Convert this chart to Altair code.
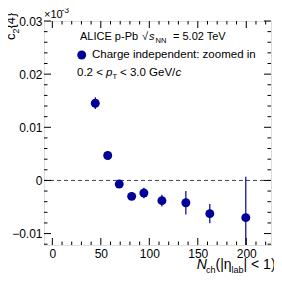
import altair as alt
import pandas as pd

# data (values as displayed, in units of the x10^-3 label convention)
nch = [44.3, 57.1, 69.0, 81.8, 94.4, 113.0, 137.7, 162.4, 199.5]
c24 = [0.01453, 0.00469, -0.00068, -0.0030, -0.00237, -0.0038, -0.0042, -0.00625, -0.0070]
err = [0.0011, 0.0006, 0.0005, 0.0006, 0.0010, 0.0011, 0.0022, 0.0018, 0.0077]

x_major = [0, 50, 100, 150, 200]
x_minor = [10, 20, 30, 40, 60, 70, 80, 90, 110, 120, 130, 140, 160, 170, 180, 190, 210, 220]
y_major = [-0.01, 0.0, 0.01, 0.02, 0.03]
y_minor = [-0.012, -0.008, -0.006, -0.004, -0.002, 0.002, 0.004, 0.006, 0.008,
           0.012, 0.014, 0.016, 0.018, 0.022, 0.024, 0.026, 0.028]

XDOM = [-8.6, 225.5]
YDOM = [-0.01215, 0.0300]
W, H = 227, 224
BLUE = "#000099"
FONT = "Liberation Sans"

df = pd.DataFrame({"x": nch, "y": c24, "lo": [a - b for a, b in zip(c24, err)],
                   "hi": [a + b for a, b in zip(c24, err)]})

xs = alt.Scale(domain=XDOM, nice=False, zero=False)
ys = alt.Scale(domain=YDOM, nice=False, zero=False)

xaxis = alt.Axis(values=x_major, ticks=False, domain=False, grid=False, labelFont=FONT,
                 labelFontSize=12, labelColor="black", labelPadding=3, title=None,
                 labelFlush=False)
yaxis = alt.Axis(values=y_major, ticks=False, domain=False, grid=False, labelFont=FONT,
                 labelFontSize=12, labelColor="black", labelPadding=2, title=None,
                 labelExpr="datum.value == 0 ? '0' : format(datum.value, '.2f')")

base = alt.Chart(df)

pts = base.mark_point(filled=True, size=80, opacity=1, color=BLUE, clip=True).encode(
    x=alt.X("x:Q", scale=xs, axis=xaxis),
    y=alt.Y("y:Q", scale=ys, axis=yaxis),
)
bars = base.mark_rule(color=BLUE, strokeWidth=1.2, clip=True).encode(
    x=alt.X("x:Q", scale=xs), y=alt.Y("lo:Q", scale=ys), y2="hi:Q")

zero = alt.Chart(pd.DataFrame({"z": [0.0]})).mark_rule(
    color="#444444", strokeDash=[4, 3], strokeWidth=1).encode(y=alt.Y("z:Q", scale=ys))

def xticks(vals, L):
    d = alt.Chart(pd.DataFrame({"v": vals}))
    b = d.mark_rule(color="black", strokeWidth=1).encode(
        x=alt.X("v:Q", scale=xs), y=alt.value(H), y2=alt.value(H - L))
    t = d.mark_rule(color="black", strokeWidth=1).encode(
        x=alt.X("v:Q", scale=xs), y=alt.value(0), y2=alt.value(L))
    return b + t

def yticks(vals, L):
    d = alt.Chart(pd.DataFrame({"v": vals}))
    l = d.mark_rule(color="black", strokeWidth=1).encode(
        y=alt.Y("v:Q", scale=ys), x=alt.value(0), x2=alt.value(L))
    r = d.mark_rule(color="black", strokeWidth=1).encode(
        y=alt.Y("v:Q", scale=ys), x=alt.value(W), x2=alt.value(W - L))
    return l + r

def txt(s, x, y, size=11.5, style="normal", align="left", angle=0, baseline="alphabetic"):
    return alt.Chart(pd.DataFrame({"t": [s]})).mark_text(
        font=FONT, fontSize=size, fontStyle=style, align=align, baseline=baseline,
        angle=angle, color="black").encode(text="t:N", x=alt.value(x), y=alt.value(y))

texts = [
    # y title c_2{4}
    txt("c", -29, 19, 13, angle=270),
    txt("2", -25.5, 12.5, 9, angle=270),
    txt("{4}", -29, 7.5, 13, angle=270),
    # x10^-3
    txt("\u00d710", 0, -3, 11),
    txt("-3", 17.5, -8, 8.5),
    # x title
    txt("N", 152.7, 248, 14, style="italic"),
    txt("ch", 162, 252, 9),
    txt("(|\u03b7", 171.5, 248, 14),
    txt("lab", 187.5, 252, 9),
    txt("| < 1)", 199.5, 248, 14),
    # legend line 1
    txt("ALICE p-Pb", 36, 19, 11),
    txt("\u221a", 98, 19, 11),
    txt("s", 105, 19, 11, style="italic"),
    txt("NN", 111.5, 22, 7.5),
    txt("= 5.02 TeV", 129, 19, 11),
    # legend line 2
    txt("Charge independent: zoomed in", 48, 37, 11.5),
    # legend line 3
    txt("0.2 <", 33, 55, 11.5),
    txt("p", 62, 55, 11.5, style="italic"),
    txt("T", 68.5, 58, 7.5),
    txt("< 3.0 GeV/", 76, 55, 11.5),
    txt("c", 131.5, 55, 11.5, style="italic"),
]

leg_pt = alt.Chart(pd.DataFrame({"a": [0]})).mark_point(
    filled=True, size=80, opacity=1, color=BLUE).encode(x=alt.value(37.7), y=alt.value(34))

layers = [zero, bars, pts, xticks(x_major, 7), xticks(x_minor, 3.5),
          yticks(y_major, 7), yticks(y_minor, 3.5), leg_pt] + texts

chart = alt.layer(*layers).properties(
    width=W, height=H,
    autosize=alt.AutoSizeParams(type="none"),
    padding={"left": 36, "top": 13, "right": 3, "bottom": 29},
).configure_view(stroke="black", strokeWidth=1.2).configure(background="white")

chart.save("out.html", embed_options={"renderer": "svg", "actions": False})
